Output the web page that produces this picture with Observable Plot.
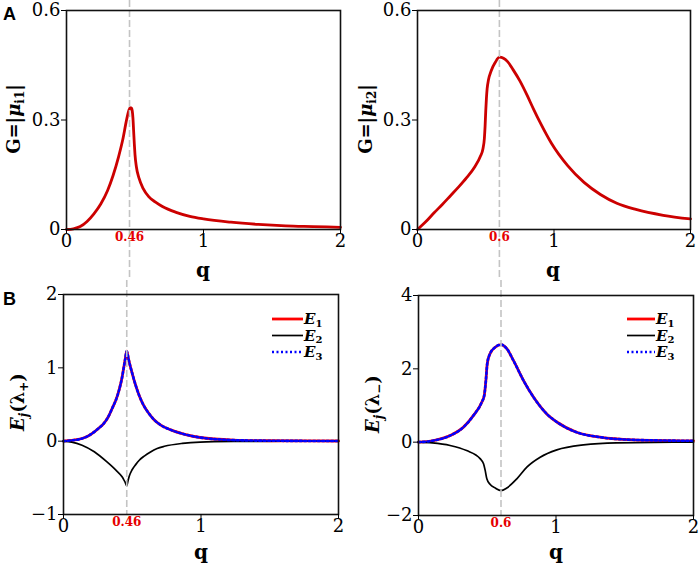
<!DOCTYPE html>
<html><head><meta charset="utf-8">
<script src="https://cdn.jsdelivr.net/npm/d3@7"></script>
<script src="https://cdn.jsdelivr.net/npm/@observablehq/plot@0.6"></script>
<style>
body{margin:0;background:#fff;}
#root{position:relative;width:699px;height:568px;overflow:hidden;background:#fff;}
#root > svg{position:absolute;}
</style></head><body><div id="root"></div>
<script>
// ---- Data ----
const qTicks = [0, 1, 2];
const yTicksA = [0, 0.3, 0.6];
const yTicksB1 = [-1, 0, 1, 2];
const yTicksB2 = [-2, 0, 2, 4];
const critLeft = 0.46, critRight = 0.6;

// Panel A (left): G = |mu_i1|
const qA1 = [0,0.05,0.1,0.15,0.2,0.25,0.3,0.34,0.38,0.41,0.44,0.455,0.465,0.475,0.48,0.485,0.49,0.495,0.5,0.51,0.53,0.56,0.6,0.65,0.7,0.8,0.9,1.0,1.2,1.4,1.6,1.8,2.0];
const gA1 = [0,0.002,0.008,0.022,0.043,0.07,0.107,0.148,0.199,0.245,0.303,0.326,0.334,0.332,0.325,0.305,0.27,0.235,0.205,0.172,0.14,0.112,0.09,0.075,0.063,0.047,0.036,0.029,0.02,0.014,0.01,0.008,0.006];

// Panel A (right): G = |mu_i2|
const qA2 = [0,0.06,0.12,0.18,0.24,0.3,0.36,0.42,0.46,0.48,0.49,0.495,0.5,0.505,0.51,0.52,0.54,0.57,0.6,0.63,0.66,0.7,0.75,0.8,0.85,0.9,0.98,1.1,1.22,1.34,1.46,1.6,1.8,2.0];
const gA2 = [0,0.021,0.045,0.068,0.092,0.116,0.142,0.172,0.2,0.222,0.25,0.282,0.325,0.36,0.385,0.41,0.435,0.458,0.472,0.469,0.46,0.438,0.407,0.37,0.33,0.292,0.237,0.175,0.129,0.096,0.072,0.055,0.039,0.029];

// Panel B (left): E_j(lambda+)
const qB1a = [0,0.056,0.135,0.179,0.224,0.258,0.292,0.325,0.359,0.381,0.404,0.426,0.437,0.448,0.46,0.473,0.486,0.499,0.525,0.551,0.577,0.616,0.655,0.707,0.785,0.889,0.994,1.236,1.5,2.0];
const e1B1 = [0,0.01,0.036,0.07,0.127,0.18,0.24,0.33,0.468,0.56,0.695,0.87,0.99,1.11,1.227,1.12,1.02,0.93,0.76,0.62,0.51,0.39,0.3,0.22,0.15,0.09,0.05,0.015,0.006,0.002];
const e3B1 = [0,0.01,0.036,0.07,0.127,0.18,0.24,0.33,0.468,0.56,0.695,0.87,0.99,1.11,1.227,1.12,1.02,0.93,0.76,0.62,0.51,0.39,0.3,0.22,0.15,0.09,0.05,0.015,0.006,0.002];
const qB1b = [0,0.06,0.135,0.224,0.314,0.381,0.426,0.437,0.448,0.46,0.468,0.478,0.499,0.525,0.551,0.59,0.63,0.681,0.734,0.864,0.994,1.236,1.6,2.0];
const e2B1 = [0,-0.012,-0.055,-0.145,-0.28,-0.395,-0.486,-0.52,-0.56,-0.61,-0.55,-0.48,-0.39,-0.32,-0.26,-0.2,-0.15,-0.1,-0.07,-0.03,-0.012,-0.004,-0.001,0];

// Panel B (right): E_j(lambda-)
const qB2a = [0,0.109,0.23,0.327,0.4,0.46,0.478,0.49,0.5,0.52,0.558,0.6,0.642,0.69,0.764,0.836,0.933,1.006,1.15,1.32,1.56,2.0];
const e1B2 = [0,0.045,0.18,0.41,0.73,1.09,1.27,1.68,2.14,2.41,2.59,2.66,2.55,2.23,1.68,1.23,0.77,0.55,0.27,0.136,0.064,0.036];
const e3B2 = [0,0.045,0.18,0.41,0.73,1.09,1.27,1.68,2.14,2.41,2.59,2.66,2.55,2.23,1.68,1.23,0.77,0.55,0.27,0.136,0.064,0.036];
const qB2b = [0,0.1,0.23,0.35,0.448,0.473,0.485,0.497,0.52,0.558,0.6,0.642,0.715,0.788,0.885,1.006,1.2,1.44,2.0];
const e2B2 = [0,-0.02,-0.09,-0.23,-0.45,-0.59,-0.77,-1.0,-1.15,-1.25,-1.32,-1.25,-1.0,-0.68,-0.41,-0.21,-0.073,-0.018,0];

// ---- Drawing ----
const FONT = "DejaVu Serif, Liberation Serif, serif";
const root = document.getElementById("root");

function makePanel(cfg) {
  const marks = [];
  cfg.series.forEach(s => {
    const rows = s.q.map((q, i) => ({q, v: s.v[i]}));
    marks.push(Plot.line(rows, {x: "q", y: "v", stroke: s.color, strokeWidth: s.width,
      strokeDasharray: s.dash, curve: "monotone-x"}));
  });
  marks.push(Plot.ruleX([cfg.crit], {stroke: "#c4c4c4", strokeWidth: 1.6, strokeDasharray: "7,3",
    insetTop: -cfg.mt, insetBottom: -cfg.ruleBelow}));
  marks.push(Plot.frame({stroke: "#111", strokeWidth: 1.6}));
  marks.push(Plot.axisX({ticks: qTicks, tickSize: 4, tickPadding: 1, fontSize: 18, label: null,
    tickFormat: d => String(d)}));
  marks.push(Plot.axisY({ticks: cfg.yTicks, tickSize: 5, tickPadding: 1, fontSize: 18, label: null,
    tickFormat: cfg.yFmt}));
  marks.push(Plot.text([{q: cfg.crit, t: cfg.critLabel}], {x: "q", text: "t", frameAnchor: "bottom",
    dy: 11, fill: "#e60000", fontWeight: "bold", fontSize: 12}));
  const svg = Plot.plot({
    width: cfg.w, height: cfg.h,
    marginLeft: cfg.ml, marginRight: cfg.mr, marginTop: cfg.mt, marginBottom: cfg.mb,
    x: {domain: [0, 2]},
    y: {domain: cfg.yDomain},
    style: {fontFamily: FONT, fontSize: "18px", color: "black", background: "transparent", overflow: "visible"},
    marks
  });
  svg.style.left = cfg.left + "px";
  svg.style.top = cfg.top + "px";
  root.appendChild(svg);
}

const fmtA = d => d === 0 ? "0" : d.toFixed(1);
const fmtB = d => d < 0 ? "\u2212" + Math.abs(d) : String(d);

makePanel({left: 0, top: 0, w: 350, h: 280, ml: 66, mr: 10, mt: 10, mb: 51, ruleBelow: 51,
  yDomain: [0, 0.6], yTicks: yTicksA, yFmt: fmtA, crit: critLeft, critLabel: "0.46",
  series: [{q: qA1, v: gA1, color: "#cc0000", width: 2.8}]});
makePanel({left: 350, top: 0, w: 349, h: 280, ml: 67, mr: 9, mt: 10, mb: 51, ruleBelow: 51,
  yDomain: [0, 0.6], yTicks: yTicksA, yFmt: fmtA, crit: critRight, critLabel: "0.6",
  series: [{q: qA2, v: gA2, color: "#cc0000", width: 2.8}]});
makePanel({left: 0, top: 280, w: 350, h: 288, ml: 63, mr: 12, mt: 14, mb: 54, ruleBelow: 0,
  yDomain: [-1, 2], yTicks: yTicksB1, yFmt: fmtB, crit: critLeft, critLabel: "0.46",
  series: [
    {q: qB1a, v: e1B1, color: "#ff0000", width: 2.8},
    {q: qB1b, v: e2B1, color: "#000000", width: 1.7},
    {q: qB1a, v: e3B1, color: "#0000ff", width: 2.6, dash: "2,2.5"}
  ]});
makePanel({left: 350, top: 280, w: 349, h: 288, ml: 68, mr: 6, mt: 15, mb: 53, ruleBelow: 0,
  yDomain: [-2, 4], yTicks: yTicksB2, yFmt: fmtB, crit: critRight, critLabel: "0.6",
  series: [
    {q: qB2a, v: e1B2, color: "#ff0000", width: 2.8},
    {q: qB2b, v: e2B2, color: "#000000", width: 1.7},
    {q: qB2a, v: e3B2, color: "#0000ff", width: 2.6, dash: "2,2.5"}
  ]});

// ---- Labels, legends (overlay) ----
const NS = "http://www.w3.org/2000/svg";
const ov = document.createElementNS(NS, "svg");
ov.setAttribute("width", 699); ov.setAttribute("height", 568);
ov.style.left = "0px"; ov.style.top = "0px"; ov.style.pointerEvents = "none";
root.appendChild(ov);
function txt(x, y, parts, opts = {}) {
  const t = document.createElementNS(NS, "text");
  t.setAttribute("x", x); t.setAttribute("y", y);
  t.setAttribute("font-family", opts.family || FONT);
  t.setAttribute("font-size", opts.size || 20);
  t.setAttribute("font-weight", opts.weight || "bold");
  t.setAttribute("text-anchor", opts.anchor || "start");
  t.setAttribute("fill", "#000");
  if (opts.rotate) t.setAttribute("transform", `rotate(-90 ${x} ${y})`);
  parts.forEach(p => {
    const s = document.createElementNS(NS, "tspan");
    s.textContent = p.t;
    if (p.italic) s.setAttribute("font-style", "italic");
    if (p.size) s.setAttribute("font-size", p.size);
    if (p.dy) s.setAttribute("dy", p.dy);
    s.setAttribute("font-weight", p.weight || opts.weight || "bold");
    t.appendChild(s);
  });
  ov.appendChild(t);
}
// panel letters
txt(3, 20, [{t: "A"}], {family: "Liberation Sans, Arial, sans-serif", size: 18});
txt(3, 305, [{t: "B"}], {family: "Liberation Sans, Arial, sans-serif", size: 18});
// x labels
[[203, 277], [553, 277], [201, 559], [556, 559]].forEach(([x, y]) => txt(x, y, [{t: "q"}], {anchor: "middle", size: 20}));
// y labels
txt(20, 119, [{t: "G=|"}, {t: "\u03bc", italic: true}, {t: "i1", size: 12, dy: 4}, {t: "|", dy: -4}], {rotate: true, anchor: "middle", size: 18});
txt(372, 119, [{t: "G=|"}, {t: "\u03bc", italic: true}, {t: "i2", size: 12, dy: 4}, {t: "|", dy: -4}], {rotate: true, anchor: "middle", size: 18});
txt(24, 402, [{t: "E", italic: true}, {t: "j", italic: true, size: 12, dy: 4}, {t: "(\u03bb", dy: -4}, {t: "+", size: 12, dy: 4}, {t: ")", dy: -4}], {rotate: true, anchor: "middle", size: 18});
txt(379, 404, [{t: "E", italic: true}, {t: "j", italic: true, size: 12, dy: 4}, {t: "(\u03bb", dy: -4}, {t: "\u2212", size: 12, dy: 4}, {t: ")", dy: -4}], {rotate: true, anchor: "middle", size: 18});
// legends
const legendItems = [
  {label: "1", color: "#ff0000", width: 2.8, dash: null},
  {label: "2", color: "#000000", width: 1.7, dash: null},
  {label: "3", color: "#0000ff", width: 2.6, dash: "2,2.5"}
];
[[272, 303], [627, 655]].forEach(([x1, x2]) => {
  legendItems.forEach((it, i) => {
    const y = 319 + i * 16.5;
    const l = document.createElementNS(NS, "line");
    l.setAttribute("x1", x1); l.setAttribute("x2", x2);
    l.setAttribute("y1", y); l.setAttribute("y2", y);
    l.setAttribute("stroke", it.color); l.setAttribute("stroke-width", it.width);
    if (it.dash) l.setAttribute("stroke-dasharray", it.dash);
    ov.appendChild(l);
    txt(x2 + 1, y + 5, [{t: "E", italic: true}, {t: it.label, size: 10, dy: 2.5}], {size: 15});
  });
});
</script>
</body></html>
